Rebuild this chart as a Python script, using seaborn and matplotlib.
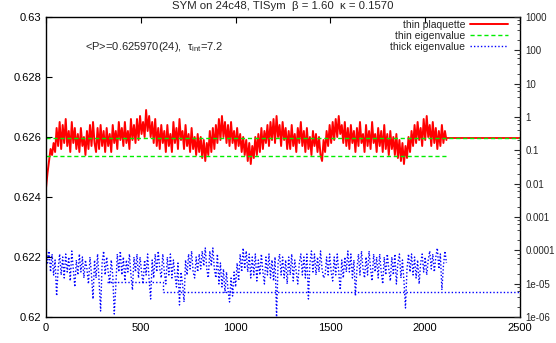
import numpy as np
import pandas as pd
import matplotlib
matplotlib.use("Agg")
import matplotlib.pyplot as plt
import seaborn as sns
from matplotlib.ticker import LogLocator, FixedLocator, NullFormatter

# ---------------- data ----------------
sweeps = list(range(0, 2113, 8))          # trajectory index of each sample

thin_plaquette = [
    0.6243, 0.6248, 0.6252, 0.6256, 0.6254, 0.6258, 0.6255, 0.6263, 0.6257, 0.6265,
    0.6256, 0.6264, 0.6258, 0.6266, 0.6257, 0.6262, 0.6255, 0.6265, 0.6258, 0.6263,
    0.6256, 0.6261, 0.6255, 0.6263, 0.6257, 0.6260, 0.6254, 0.6262, 0.6256, 0.6264,
    0.6257, 0.6265, 0.6258, 0.6255, 0.6263, 0.6256, 0.6264, 0.6257, 0.6262, 0.6255,
    0.6263, 0.6257, 0.6261, 0.6255, 0.6264, 0.6258, 0.6262, 0.6256, 0.6265, 0.6259,
    0.6263, 0.6257, 0.6265, 0.6258, 0.6262, 0.6256, 0.6266, 0.6259, 0.6264, 0.6258,
    0.6266, 0.6259, 0.6267, 0.6261, 0.6265, 0.6260, 0.6269, 0.6262, 0.6267, 0.6260,
    0.6265, 0.6258, 0.6266, 0.6257, 0.6263, 0.6256, 0.6264, 0.6258, 0.6262, 0.6255,
    0.6264, 0.6257, 0.6261, 0.6255, 0.6265, 0.6258, 0.6263, 0.6256, 0.6266, 0.6259,
    0.6262, 0.6256, 0.6264, 0.6257, 0.6261, 0.6255, 0.6263, 0.6256, 0.6260, 0.6254,
    0.6261, 0.6255, 0.6260, 0.6253, 0.6259, 0.6252, 0.6258, 0.6254, 0.6262, 0.6255,
    0.6263, 0.6256, 0.6264, 0.6258, 0.6266, 0.6259, 0.6267, 0.6260, 0.6265, 0.6258,
    0.6264, 0.6257, 0.6265, 0.6258, 0.6262, 0.6256, 0.6263, 0.6257, 0.6261, 0.6255,
    0.6260, 0.6254, 0.6259, 0.6252, 0.6258, 0.6251, 0.6257, 0.6253, 0.6260, 0.6254,
    0.6261, 0.6255, 0.6263, 0.6256, 0.6262, 0.6258, 0.6264, 0.6257, 0.6265, 0.6259,
    0.6266, 0.6258, 0.6267, 0.6260, 0.6264, 0.6257, 0.6265, 0.6259, 0.6263, 0.6256,
    0.6262, 0.6256, 0.6264, 0.6257, 0.6261, 0.6255, 0.6263, 0.6258, 0.6265, 0.6257,
    0.6262, 0.6255, 0.6263, 0.6256, 0.6260, 0.6254, 0.6262, 0.6257, 0.6261, 0.6255,
    0.6260, 0.6254, 0.6252, 0.6259, 0.6255, 0.6262, 0.6257, 0.6264, 0.6258, 0.6265,
    0.6259, 0.6266, 0.6260, 0.6267, 0.6261, 0.6264, 0.6258, 0.6265, 0.6257, 0.6263,
    0.6256, 0.6264, 0.6258, 0.6262, 0.6255, 0.6263, 0.6257, 0.6265, 0.6258, 0.6261,
    0.6255, 0.6264, 0.6257, 0.6262, 0.6256, 0.6265, 0.6258, 0.6261, 0.6255, 0.6263,
    0.6257, 0.6262, 0.6255, 0.6264, 0.6256, 0.6261, 0.6254, 0.6262, 0.6256, 0.6260,
    0.6254, 0.6261, 0.6253, 0.6259, 0.6252, 0.6258, 0.6251, 0.6257, 0.6253, 0.6260,
    0.6255, 0.6262, 0.6257, 0.6264, 0.6258, 0.6265, 0.6259, 0.6263, 0.6257, 0.6266,
    0.6259, 0.6267, 0.6260, 0.6264, 0.6257, 0.6265, 0.6258, 0.6263, 0.6256, 0.6262,
    0.6257, 0.6264, 0.6258, 0.6262, 0.6259,
]

thick_eigenvalue = [
    0.6224, 0.6218, 0.6222, 0.6215, 0.6221, 0.6214, 0.6219, 0.6207, 0.6216, 0.6221,
    0.6214, 0.6220, 0.6213, 0.6221, 0.6215, 0.6220, 0.6212, 0.6222, 0.6216, 0.6210,
    0.6219, 0.6214, 0.6221, 0.6215, 0.6220, 0.6213, 0.6219, 0.6216, 0.6211, 0.6220,
    0.6214, 0.6206, 0.6219, 0.6213, 0.6221, 0.6212, 0.6202, 0.6218, 0.6222, 0.6214,
    0.6220, 0.6215, 0.6211, 0.6219, 0.6214, 0.6201, 0.6210, 0.6221, 0.6215, 0.6222,
    0.6214, 0.6220, 0.6212, 0.6219, 0.6215, 0.6221, 0.6214, 0.6209, 0.6220, 0.6215,
    0.6221, 0.6213, 0.6220, 0.6215, 0.6211, 0.6219, 0.6214, 0.6221, 0.6212, 0.6206,
    0.6219, 0.6213, 0.6221, 0.6215, 0.6222, 0.6216, 0.6213, 0.6221, 0.6215, 0.6211,
    0.6220, 0.6214, 0.6221, 0.6213, 0.6219, 0.6214, 0.6210, 0.6218, 0.6204, 0.6215,
    0.6211, 0.6205, 0.6219, 0.6214, 0.6221, 0.6216, 0.6222, 0.6215, 0.6213, 0.6220,
    0.6215, 0.6221, 0.6216, 0.6222, 0.6217, 0.6223, 0.6216, 0.6213, 0.6222, 0.6217,
    0.6223, 0.6216, 0.6213, 0.6221, 0.6211, 0.6218, 0.6210, 0.6216, 0.6208, 0.6215,
    0.6209, 0.6205, 0.6213, 0.6207, 0.6215, 0.6210, 0.6218, 0.6212, 0.6221, 0.6215,
    0.6223, 0.6216, 0.6222, 0.6215, 0.6221, 0.6213, 0.6220, 0.6214, 0.6221, 0.6212,
    0.6219, 0.6214, 0.6221, 0.6215, 0.6211, 0.6220, 0.6214, 0.6221, 0.6213, 0.6219,
    0.6212, 0.6220, 0.6200, 0.6218, 0.6221, 0.6214, 0.6220, 0.6213, 0.6219, 0.6211,
    0.6220, 0.6214, 0.6221, 0.6212, 0.6219, 0.6215, 0.6211, 0.6218, 0.6221, 0.6214,
    0.6220, 0.6213, 0.6221, 0.6206, 0.6218, 0.6222, 0.6215, 0.6221, 0.6214, 0.6220,
    0.6215, 0.6222, 0.6216, 0.6213, 0.6214, 0.6220, 0.6214, 0.6221, 0.6215, 0.6212,
    0.6220, 0.6214, 0.6221, 0.6215, 0.6209, 0.6219, 0.6213, 0.6220, 0.6215, 0.6222,
    0.6215, 0.6221, 0.6213, 0.6219, 0.6207, 0.6216, 0.6221, 0.6214, 0.6222, 0.6216,
    0.6213, 0.6220, 0.6214, 0.6222, 0.6216, 0.6212, 0.6221, 0.6215, 0.6220, 0.6213,
    0.6221, 0.6215, 0.6211, 0.6220, 0.6214, 0.6221, 0.6216, 0.6212, 0.6220, 0.6214,
    0.6221, 0.6211, 0.6218, 0.6221, 0.6213, 0.6219, 0.6212, 0.6203, 0.6216, 0.6221,
    0.6215, 0.6221, 0.6214, 0.6220, 0.6213, 0.6219, 0.6211, 0.6218, 0.6221, 0.6215,
    0.6220, 0.6214, 0.6219, 0.6222, 0.6216, 0.6221, 0.6215, 0.6220, 0.6223, 0.6216,
    0.6221, 0.6209, 0.6217, 0.6222, 0.6218,
]

# thin eigenvalue level and plaquette average
thin_eig_x = [0, 2112]
thin_eig_y = [0.62538, 0.62538]
mean_x = [0, 2500]
mean_y = [0.62597, 0.62597]
mean_tail_x = [2112, 2500]
mean_tail_y = [0.62597, 0.62597]

# running minimum of thick eigenvalue (step line)
min_x = [320, 617, 617, 2500]
min_y = [0.62117, 0.62117, 0.62083, 0.62083]

title = "SYM on 24c48, TISym  β = 1.60  κ = 0.1570"
annot = r"<P>=0.625970(24),  $\tau_{\rm int}$=7.2"
x_ticks = [0, 500, 1000, 1500, 2000, 2500]
y_ticks = [0.62, 0.622, 0.624, 0.626, 0.628, 0.63]
y_ticklabels = ["0.62", "0.622", "0.624", "0.626", "0.628", "0.63"]
y2_ticks = [1e-6, 1e-5, 1e-4, 1e-3, 1e-2, 1e-1, 1, 10, 100, 1000]
y2_ticklabels = ["1e-06", "1e-05", "0.0001", "0.001", "0.01", "0.1", "1", "10", "100", "1000"]

# ---------------- plotting ----------------
sns.set_style("white")
plt.rcParams["font.family"] = ["Liberation Sans", "DejaVu Sans"]
plt.rcParams["mathtext.fontset"] = "custom"
plt.rcParams["mathtext.rm"] = "Liberation Sans"
plt.rcParams["mathtext.it"] = "Liberation Sans"

fig = plt.figure(figsize=(5.56, 3.43), dpi=100)
ax = fig.add_axes([46 / 556, 1 - 317 / 343, (520 - 46) / 556, 300 / 343])

df_red = pd.DataFrame({"x": sweeps, "y": thin_plaquette})
df_blue = pd.DataFrame({"x": sweeps, "y": thick_eigenvalue})

sns.lineplot(data=df_red, x="x", y="y", ax=ax, color="#ff0000", lw=1.4,
             label="thin plaquette", estimator=None, sort=False)
sns.lineplot(x=mean_tail_x, y=mean_tail_y, ax=ax, color="#ff0000", lw=1.3,
             estimator=None, legend=False)
sns.lineplot(x=thin_eig_x, y=thin_eig_y, ax=ax, color="#00ee00", lw=1.0,
             label="thin eigenvalue", estimator=None)
ax.lines[-1].set_linestyle((0, (3, 2)))
sns.lineplot(x=mean_x, y=mean_y, ax=ax, color="#00ee00", lw=1.0,
             estimator=None, legend=False)
ax.lines[-1].set_linestyle((0, (3, 2)))
sns.lineplot(data=df_blue, x="x", y="y", ax=ax, color="#0000ff", lw=1.0,
             label="thick eigenvalue", estimator=None, sort=False)
ax.lines[-1].set_linestyle((0, (1, 1.5)))
sns.lineplot(x=min_x, y=min_y, ax=ax, color="#0000ff", lw=1.0,
             estimator=None, sort=False, legend=False)
ax.lines[-1].set_linestyle((0, (1, 1.5)))

ax.set_xlim(0, 2500)
ax.set_ylim(0.62, 0.63)
ax.set_xticks(x_ticks)
ax.set_xticklabels([str(v) for v in x_ticks])
ax.set_yticks(y_ticks)
ax.set_yticklabels(y_ticklabels)
ax.set_xlabel("")
ax.set_ylabel("")
ax.tick_params(axis="both", direction="in", length=4, width=0.8, labelsize=8,
               colors="black", top=True, right=False)
ax.tick_params(axis="x", pad=4)
for s in ax.spines.values():
    s.set_color("black")
    s.set_linewidth(1.0)

ax2 = ax.twinx()
ax2.set_yscale("log")
ax2.set_ylim(1e-6, 1e3)
ax2.yaxis.set_major_locator(FixedLocator(y2_ticks))
ax2.set_yticklabels(y2_ticklabels)
ax2.yaxis.set_minor_locator(LogLocator(base=10, subs=(2, 4, 6, 8), numticks=20))
ax2.yaxis.set_minor_formatter(NullFormatter())
ax2.tick_params(axis="y", which="major", direction="in", length=4, width=0.8,
                labelsize=7.0, pad=4)
ax2.tick_params(axis="y", which="minor", direction="in", length=2, width=0.6)
for s in ax2.spines.values():
    s.set_visible(False)

leg = ax.legend(loc="upper right", bbox_to_anchor=(0.99, 1.015), frameon=False,
                markerfirst=False, fontsize=7.5, handlelength=3.6,
                labelspacing=0.1, handletextpad=0.5, borderaxespad=0.3)

fig.text(283 / 556, 1 - 6 / 343, title, ha="center", va="center", fontsize=8.2)
ax.text(206, 0.629, annot, ha="left", va="center", fontsize=8,
        transform=ax.transData)

fig.savefig("out.png", dpi=100)
